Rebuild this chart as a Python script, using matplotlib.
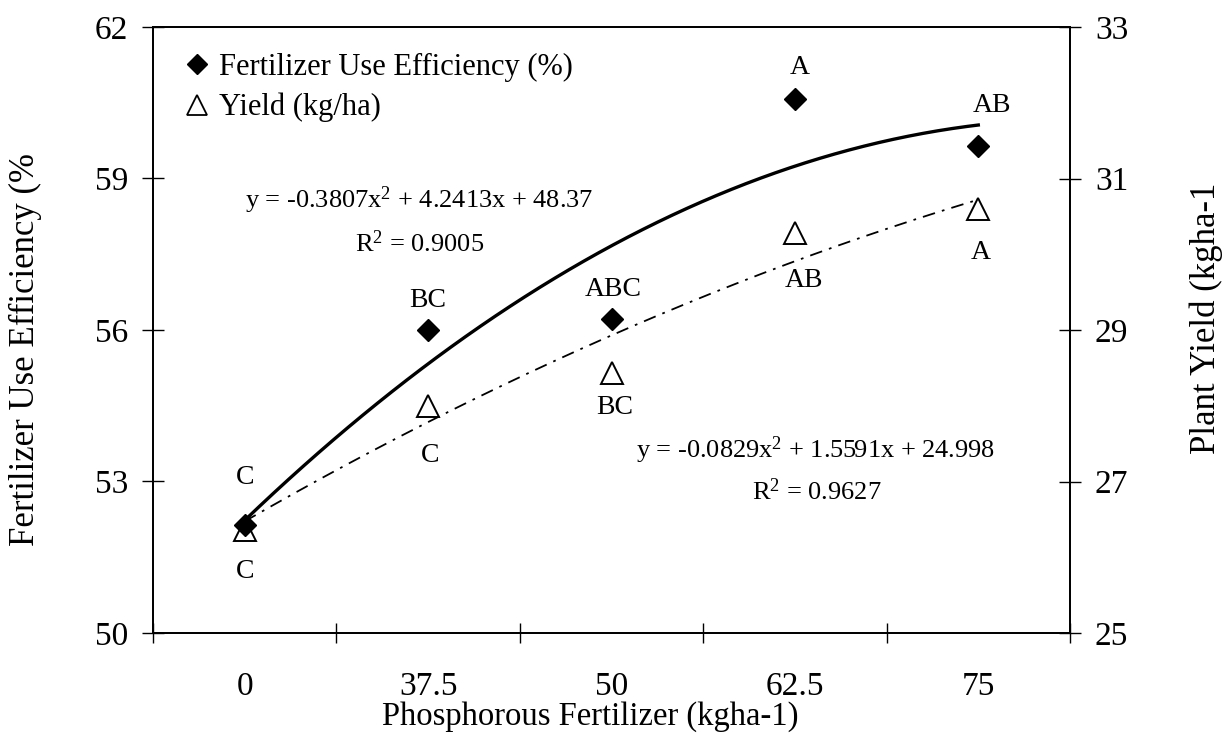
import numpy as np
import matplotlib
matplotlib.use('Agg')
import matplotlib.pyplot as plt
from matplotlib.lines import Line2D

plt.rcParams['font.family'] = ['Liberation Serif', 'DejaVu Serif']
plt.rcParams['mathtext.fontset'] = 'custom'
plt.rcParams['mathtext.rm'] = 'Liberation Serif'
plt.rcParams['mathtext.it'] = 'Liberation Serif'

# data
doses = ['0', '37.5', '50', '62.5', '75']
fue = [52.14, 56.0, 56.22, 60.57, 59.64]
yield_ = [26.36, 28.0, 28.43, 30.28, 30.6]
fue_letters = ['C', 'BC', 'ABC', 'A', 'AB']
yield_letters = ['C', 'C', 'BC', 'AB', 'A']
# trendline coefficients as printed on the chart (x = category index 1..5)
fue_coef = [-0.3807, 4.2413, 48.37]
yield_coef = [-0.0829, 1.5591, 24.998]

# label offsets in pixels (dx, dy)
fue_off = [(0, 47), (0, 29), (2, 29), (5, 32), (14, 41)]
yield_off = [(0, -42), (2, -50), (3, -34), (9, -47), (2, -44)]

fig = plt.figure(figsize=(12.25, 7.36), dpi=100)
ax = fig.add_axes([153/1225, 1-633/736, (1070-153)/1225, (633-27)/736])
ax2 = ax.twinx()

xs = np.arange(1, len(doses) + 1)
xx = np.linspace(1, len(doses), 200)

ax.plot(xx, np.polyval(fue_coef, xx), color='black', lw=2.4, zorder=2)
ax.plot(xs, fue, ls='none', marker='D', ms=11.5, color='black', zorder=3)
ax2.plot(xx, np.polyval(yield_coef, xx), color='black', lw=1.3,
         dashes=(7, 4, 1.5, 4), zorder=2)
ax2.plot(xs, yield_, ls='none', marker='^', ms=16, mfc='none',
         mec='black', mew=1.4, zorder=3)

for i in range(len(doses)):
    ax.annotate(fue_letters[i], (xs[i], fue[i]), xytext=fue_off[i],
                textcoords='offset pixels', ha='center', va='center', fontsize=20)
    ax2.annotate(yield_letters[i], (xs[i], yield_[i]), xytext=yield_off[i],
                 textcoords='offset pixels', ha='center', va='center', fontsize=20)

ax.set_xlim(0.5, len(doses) + 0.5)
ax.set_ylim(50, 62)
ax.set_yticks([50, 53, 56, 59, 62])
ax2.set_ylim(25, 33)
ax2.set_yticks([25, 27, 29, 31, 33])

ax.set_xticks(xs)
ax.set_xticklabels(doses)
ax.set_xticks(np.arange(0.5, len(doses) + 1, 1), minor=True)
ax.tick_params(axis='x', which='major', length=0, pad=28, labelsize=24)
ax.tick_params(axis='x', which='minor', length=15, width=1, direction='inout')
ax.tick_params(axis='y', length=16, width=1, direction='inout', pad=10, labelsize=24)
ax2.tick_params(axis='y', length=16, width=1, direction='inout', pad=10, labelsize=24)

for a in (ax, ax2):
    for s in a.spines.values():
        s.set_linewidth(1.3)
        s.set_color('black')

ax.text(419, 736 - 200, r'y = -0.3807x$^{2}$ + 4.2413x + 48.37', transform=None,
        ha='center', va='center', fontsize=19)
ax.text(420, 736 - 244, r'R$^{2}$ = 0.9005', transform=None,
        ha='center', va='center', fontsize=19)
ax.text(816, 736 - 450, r'y = -0.0829x$^{2}$ + 1.5591x + 24.998', transform=None,
        ha='center', va='center', fontsize=19)
ax.text(817, 736 - 492, r'R$^{2}$ = 0.9627', transform=None,
        ha='center', va='center', fontsize=19)

handles = [Line2D([], [], ls='none', marker='D', ms=10, color='black'),
           Line2D([], [], ls='none', marker='^', ms=14, mfc='none', mec='black', mew=1.3)]
ax2.legend(handles, ['Fertilizer Use Efficiency (%)', 'Yield (kg/ha)'],
           loc='upper left', bbox_to_anchor=(185/1225, 1-53/736),
           bbox_transform=fig.transFigure, frameon=False, fontsize=22,
           handlelength=0.8, handletextpad=0.3, labelspacing=0.35,
           borderpad=0, borderaxespad=0)

fig.text(25/1225, 1-349/736, 'Fertilizer Use Efficiency (%', rotation=90,
         ha='center', va='center', fontsize=25)
fig.text(1206/1225, 1-318/736, 'Plant Yield (kgha-1', rotation=90,
         ha='center', va='center', fontsize=25)
fig.text(590/1225, 1-717/736, 'Phosphorous Fertilizer (kgha-1)',
         ha='center', va='center', fontsize=23.5)

fig.savefig('out.png', dpi=100)
